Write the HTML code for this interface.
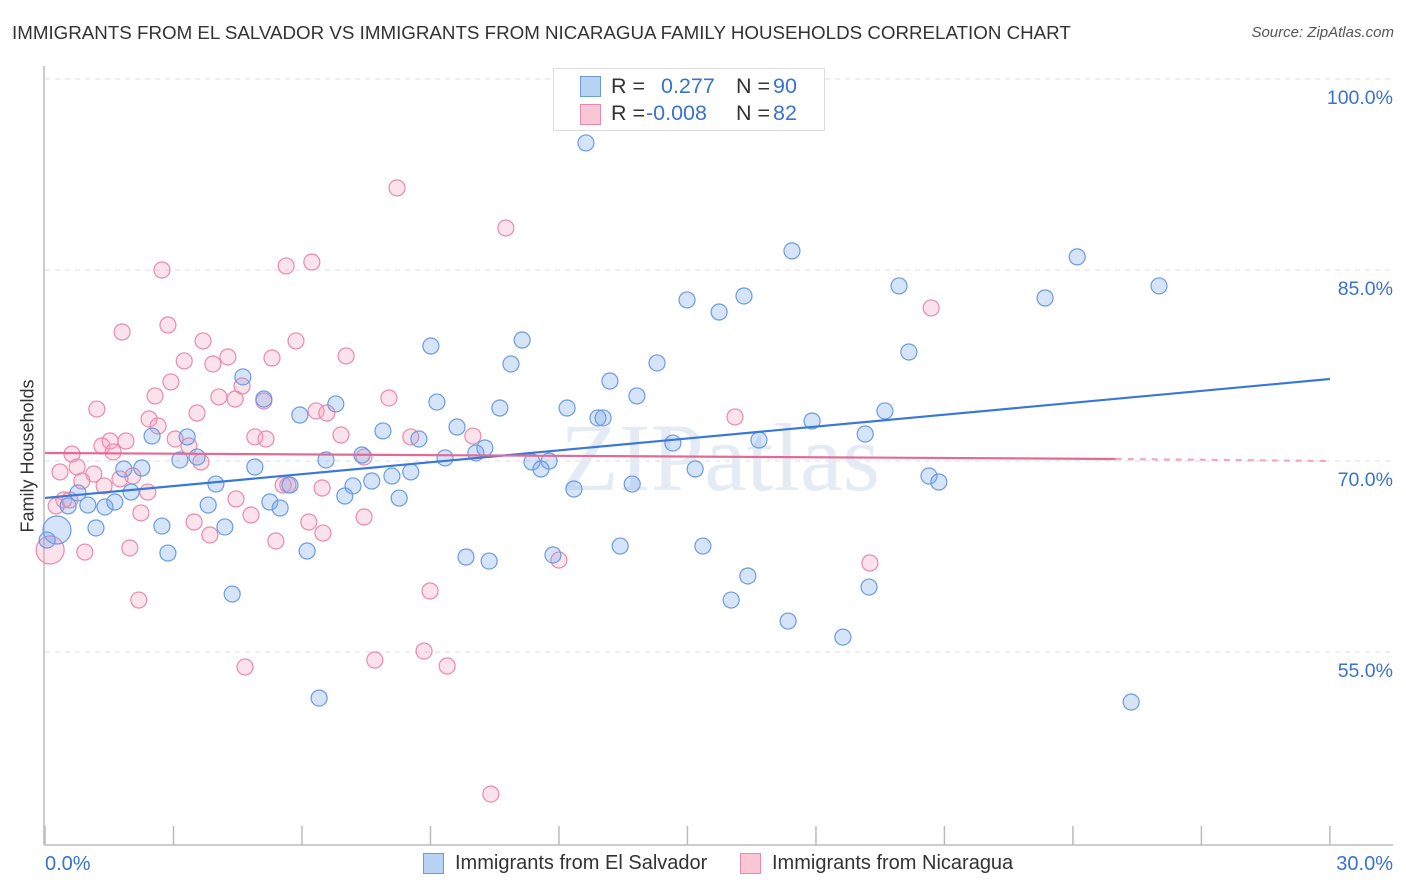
<!DOCTYPE html>
<html><head><meta charset="utf-8">
<style>
body{margin:0;background:#fff;font-family:"Liberation Sans",sans-serif;}
#wrap{position:relative;width:1406px;height:892px;overflow:hidden;}
.t{position:absolute;white-space:nowrap;}
</style></head>
<body>
<div id="wrap">
<div class="t" style="left:12px;top:22px;font-size:18.75px;color:#333;">IMMIGRANTS FROM EL SALVADOR VS IMMIGRANTS FROM NICARAGUA FAMILY HOUSEHOLDS CORRELATION CHART</div>
<div class="t" style="right:12px;top:24px;font-size:15px;color:#555;font-style:italic;">Source: ZipAtlas.com</div>
<svg id="chart" width="1406" height="892" style="position:absolute;left:0;top:0"></svg>
<div class="t" style="left:28px;top:456px;font-size:18px;color:#333;transform:translate(-50%,-50%) rotate(-90deg);">Family Households</div>
<div style="position:absolute;left:553px;top:68px;width:270px;height:61px;border:1px solid #ddd;background:#fff;font-size:21.5px;">
 <div style="position:absolute;left:26px;top:7px;width:19px;height:19px;background:#b9d3f5;border:1px solid #6a9be0;"></div>
 <div class="t" style="left:57px;top:5px;color:#333;">R =</div>
 <div class="t" style="left:107px;top:5px;color:#3a72d0;">0.277</div>
 <div class="t" style="left:182px;top:5px;color:#333;">N =</div>
 <div class="t" style="left:219px;top:5px;color:#3a72d0;">90</div>
 <div style="position:absolute;left:26px;top:35px;width:19px;height:19px;background:#f9c6d6;border:1px solid #e88aab;"></div>
 <div class="t" style="left:57px;top:32px;color:#333;">R =</div>
 <div class="t" style="left:92px;top:32px;color:#3a72d0;">-0.008</div>
 <div class="t" style="left:182px;top:32px;color:#333;">N =</div>
 <div class="t" style="left:219px;top:32px;color:#3a72d0;">82</div>
</div>
<div style="position:absolute;left:423px;top:853px;">
 <div style="position:absolute;left:0;top:0;width:19px;height:19px;background:#b9d3f5;border:1px solid #6a9be0;"></div>
 <div class="t" style="left:32px;top:-1px;font-size:20px;color:#333;">Immigrants from El Salvador</div>
</div>
<div style="position:absolute;left:740px;top:853px;">
 <div style="position:absolute;left:0;top:0;width:19px;height:19px;background:#f9c6d6;border:1px solid #e88aab;"></div>
 <div class="t" style="left:32px;top:-1px;font-size:20px;color:#333;">Immigrants from Nicaragua</div>
</div>
</div>
<script>
const yTicks=[55,70,85,100];
const yTickLabels=["55.0%","70.0%","85.0%","100.0%"];
const xTickVals=[0,3,6,9,12,15,18,21,24,27,30];
const xEndLabels=["0.0%","30.0%"];
const blueX=[12.63,17.44,24.10,26.01,19.94,23.35,16.32,14.99,15.74,20.17,9.01,11.14,10.88,14.29,13.19,13.82,4.62,5.11,6.79,5.95,9.15,10.62,12.19,12.91,13.03,17.91,19.61,2.50,3.32,7.89,8.73,9.62,10.27,10.06,14.66,16.67,19.15,3.15,3.55,4.90,6.56,7.40,9.34,11.37,11.77,11.58,15.18,1.84,2.26,3.99,5.72,7.19,7.63,8.10,8.54,7.00,8.27,12.35,13.71,20.64,20.87,0.77,0.54,1.00,1.40,1.63,2.01,3.81,5.25,5.49,1.19,2.73,4.20,0.28,0.05,2.87,6.12,9.83,10.37,11.86,13.43,15.36,16.41,16.02,19.24,4.37,17.35,18.63,6.40,25.36];
const blueY=[94.98,86.50,86.03,83.75,83.75,82.80,82.96,82.65,81.70,78.56,79.03,79.50,77.62,77.70,76.28,75.11,76.60,74.87,74.48,73.61,74.63,74.16,74.16,73.38,73.38,73.14,73.93,71.96,71.89,72.36,71.73,72.67,71.02,70.63,71.41,71.65,72.12,70.08,70.31,69.53,70.08,70.47,70.24,69.92,70.00,69.37,69.37,69.37,69.45,68.19,68.11,68.04,68.43,68.82,69.14,67.25,67.09,67.80,68.19,68.82,68.35,67.49,66.47,66.54,66.39,66.78,67.56,66.54,66.78,66.31,64.74,64.89,64.82,64.58,63.79,62.77,62.93,62.46,62.14,62.62,63.32,63.32,60.97,59.08,60.10,59.55,57.43,56.17,51.38,51.07];
const pinkX=[8.22,10.76,2.73,5.63,6.23,20.69,1.80,2.87,3.69,5.86,3.25,3.92,4.27,5.30,7.03,2.94,2.57,4.60,4.06,4.44,5.11,8.03,1.21,2.43,3.55,6.33,6.58,16.11,2.64,3.04,3.36,4.90,5.16,6.91,8.54,9.99,1.33,1.52,1.89,1.59,0.63,3.64,7.45,0.75,0.35,1.14,2.05,0.86,1.75,1.38,2.40,4.46,5.56,5.67,6.47,0.44,0.26,0.58,2.24,3.48,4.81,6.16,7.45,3.85,5.39,6.49,1.98,0.93,0.12,12.00,19.26,8.99,2.19,4.67,7.70,8.85,9.39,10.41];
const pinkY=[91.45,88.30,85.00,85.32,85.63,82.02,80.13,80.68,79.43,79.43,77.86,77.62,78.17,78.09,78.25,76.21,75.11,75.89,75.03,74.87,74.71,74.95,74.08,73.30,73.77,73.93,73.77,73.46,72.75,71.73,71.18,71.89,71.73,72.04,71.89,71.96,71.18,71.57,71.57,70.71,70.55,69.92,70.31,69.53,69.14,68.98,68.82,68.43,68.59,68.04,67.56,67.02,68.11,68.11,67.88,66.94,66.47,66.94,65.92,65.21,65.76,65.21,65.60,64.19,63.72,64.34,63.17,62.85,63.01,62.22,61.99,59.79,59.08,53.82,54.37,55.07,53.90,43.84];
const blueTrend=[[0,67.1],[30,76.44]];
const pinkTrendSolid=[[0,70.63],[25,70.16]];
const pinkTrendDash=[[25,70.16],[30,70.0]];

const NS="http://www.w3.org/2000/svg";
const svg=document.getElementById('chart');
const X0=45,PXX=42.83,Y70=461,PXY=12.733;
const sx=v=>X0+v*PXX;
const sy=v=>Y70-(v-70)*PXY;
function mk(tag,at){const e=document.createElementNS(NS,tag);for(const k in at)e.setAttribute(k,at[k]);svg.appendChild(e);return e;}

yTicks.forEach((v,i)=>{
 const g=mk('line',{x1:45,x2:1393,y1:sy(v),y2:sy(v),stroke:'#ddd','stroke-dasharray':'5,5'});
 
 
 const t=mk('text',{x:1393,y:sy(v)+25,'text-anchor':'end','font-size':19.5,fill:'#3a72d0','font-family':'Liberation Sans,sans-serif'});
 t.textContent=yTickLabels[i];
 
 
});
const ax=mk('line',{x1:44,x2:44,y1:66,y2:845,stroke:'#bbb','stroke-width':1.5});


const bx=mk('line',{x1:44,x2:1393,y1:845,y2:845,stroke:'#bbb','stroke-width':1.5});


xTickVals.forEach(v=>{
 const t=mk('line',{x1:sx(v),x2:sx(v),y1:826,y2:845,stroke:'#bbb','stroke-width':1.5});
 
 
});
[[0,'start',45],[30,'end',1393]].forEach((p,i)=>{
 const t=mk('text',{x:p[2],y:870,'text-anchor':p[1],'font-size':20,fill:'#3a72d0','font-family':'Liberation Sans,sans-serif'});
 t.textContent=xEndLabels[i];
 
 
});
const wm=mk('text',{x:720,y:490,'text-anchor':'middle','font-size':96,fill:'#e4ebf5','font-family':'Liberation Serif,serif'});
wm.textContent='ZIPatlas';



function dots(xs,ys,fill,stroke,name){
 xs.forEach((x,i)=>{
  const big=(name==='el-salvador-point'&&i===73)||(name==='nicaragua-point'&&i===68);
  const c=mk('circle',{cx:sx(x),cy:sy(ys[i]),r:big?14:8,fill:fill,stroke:stroke,'stroke-width':1.2});
  
  
 });
}
dots(pinkX,pinkY,'rgba(244,160,188,0.3)','#e88aab','nicaragua-point');
dots(blueX,blueY,'rgba(120,165,235,0.3)','#6a9be0','el-salvador-point');

function line(p,col,dash,name){
 const l=mk('line',{x1:sx(p[0][0]),y1:sy(p[0][1]),x2:sx(p[1][0]),y2:sy(p[1][1]),stroke:col,'stroke-width':2.2});
 if(dash)l.setAttribute('stroke-dasharray','6,6');
 
 
}
line(blueTrend,'#3a78d8',false,'el-salvador-trendline');
line(pinkTrendSolid,'#e46a96',false,'nicaragua-trendline');
line(pinkTrendDash,'#f0a8c0',true,'nicaragua-trendline-extension');
</script>
</body></html>
